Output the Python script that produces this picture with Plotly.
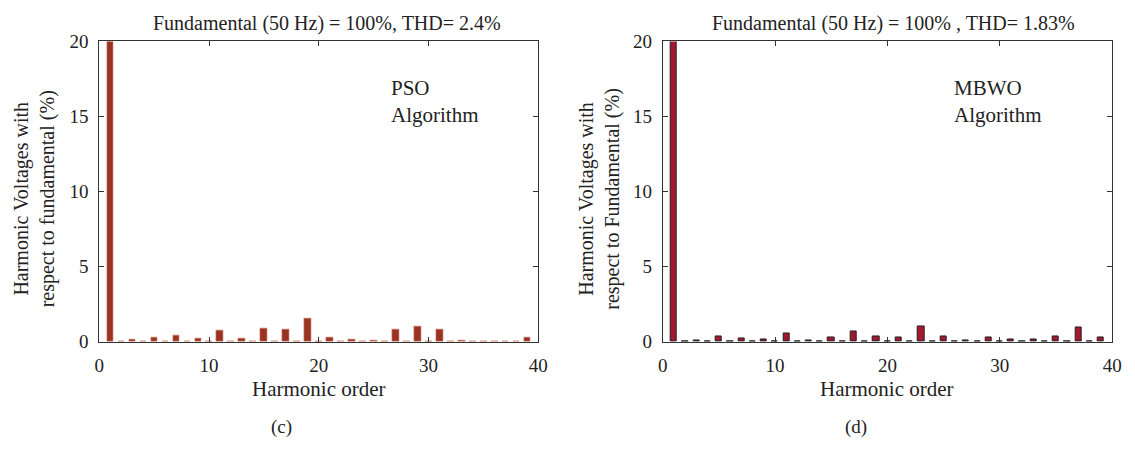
import plotly.graph_objects as go

harmonics = list(range(1, 40))

pso_odd = {1: 100, 3: 0.13, 5: 0.27, 7: 0.44, 9: 0.19, 11: 0.74, 13: 0.21, 15: 0.91,
           17: 0.80, 19: 1.58, 21: 0.27, 23: 0.13, 25: 0.06, 27: 0.84, 29: 0.99,
           31: 0.80, 33: 0.07, 35: 0.05, 37: 0.05, 39: 0.30}
mbwo_odd = {1: 100, 3: 0.11, 5: 0.38, 7: 0.23, 9: 0.15, 11: 0.57, 13: 0.11, 15: 0.30,
            17: 0.68, 19: 0.38, 21: 0.28, 23: 1.05, 25: 0.38, 27: 0.11, 29: 0.30,
            31: 0.15, 33: 0.15, 35: 0.34, 37: 0.93, 39: 0.27}
pso_even_level = 0.04
mbwo_even_level = 0.0

pso_values = [pso_odd.get(h, pso_even_level) for h in harmonics]
mbwo_values = [mbwo_odd.get(h, mbwo_even_level) for h in harmonics]

x_ticks = [0, 10, 20, 30, 40]
y_ticks = [0, 5, 10, 15, 20]

W, H = 1135, 449
FONT = "Liberation Serif"

def px_x(p):
    return p / W

def px_y(p):
    return 1 - p / H

fig = go.Figure()
fig.add_trace(go.Bar(x=harmonics, y=pso_values, width=0.6, xaxis="x", yaxis="y",
                     marker=dict(color="#9b3322", line=dict(color="#c8705f", width=0.6)),
                     showlegend=False))
fig.add_trace(go.Bar(x=harmonics, y=mbwo_values, width=0.55, xaxis="x2", yaxis="y2",
                     marker=dict(color="#a3182f", line=dict(color="#222222", width=1)),
                     showlegend=False))

axis_common = dict(showline=True, linecolor="#333", linewidth=1, mirror="ticks",
                   ticks="inside", ticklen=5, tickcolor="#333", showgrid=False,
                   zeroline=False, ticklabelstandoff=6,
                   tickfont=dict(family=FONT, size=19, color="#222"))

ydom = [px_y(348), px_y(33)]
fig.update_layout(
    width=W, height=H, margin=dict(l=0, r=0, t=0, b=0),
    plot_bgcolor="white", paper_bgcolor="white", bargap=0,
    font=dict(family=FONT, size=19, color="#222"),
    xaxis=dict(domain=[px_x(95.5), px_x(540.5)], range=[0, 40], tickvals=x_ticks, anchor="y", **axis_common),
    yaxis=dict(domain=ydom, range=[0, 20], tickvals=y_ticks, anchor="x", **axis_common),
    xaxis2=dict(domain=[px_x(666.5), px_x(1122)], range=[0, 40], tickvals=x_ticks, anchor="y2", **axis_common),
    yaxis2=dict(domain=ydom, range=[0, 20], tickvals=y_ticks, anchor="x2", **axis_common),
)

def ann(text, x, y, angle=0, size=20, xanchor="center", align="center"):
    fig.add_annotation(text=text, x=px_x(x), y=px_y(y), xref="paper", yref="paper",
                       showarrow=False, textangle=angle, xanchor=xanchor, yanchor="middle",
                       align=align, font=dict(family=FONT, size=size, color="#222"))

ann("Fundamental (50 Hz) = 100%, THD= 2.4%", 326, 14)
ann("Fundamental (50 Hz) = 100% , THD= 1.83%", 900, 14)
ann("Harmonic Voltages with<br>respect to fundamental (%)", 30, 198, angle=-90)
ann("Harmonic Voltages with<br>respect to Fundamental (%)", 603, 198, angle=-90)
ann("Harmonic order", 318, 398, size=21)
ann("Harmonic order", 894, 398, size=21)
ann("(c)", 280, 437, size=19)
ann("(d)", 862, 437, size=19)
ann("PSO<br>Algorithm", 389, 96, xanchor="left", align="left", size=21)
ann("MBWO<br>Algorithm", 960, 96, xanchor="left", align="left", size=21)

fig.write_html("out.html", config={"displayModeBar": False},
               post_script="document.body.style.margin='0';document.body.style.overflow='hidden';")
